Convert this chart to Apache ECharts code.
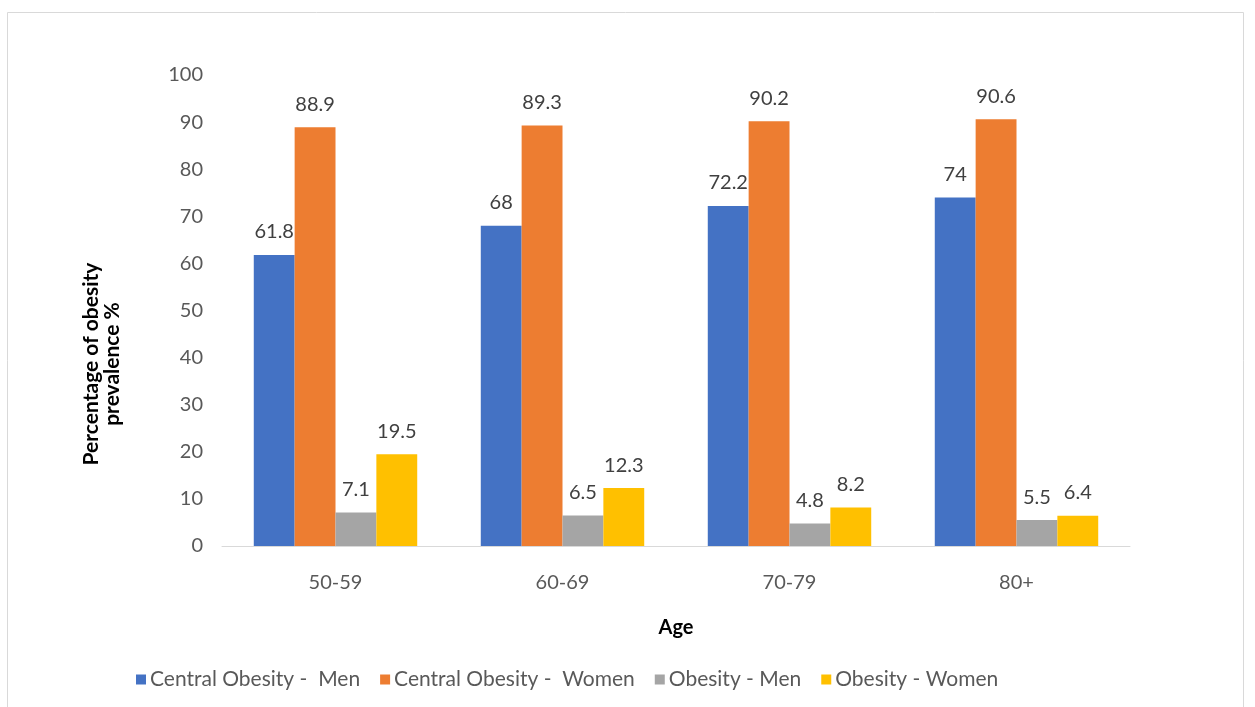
<!DOCTYPE html>
<html>
<head>
<meta charset="utf-8">
<script src="https://cdn.jsdelivr.net/npm/echarts@6/dist/echarts.min.js"></script>
<style>
  html, body { margin: 0; padding: 0; background: #ffffff; }
  #chart { width: 1255px; height: 707px; }
</style>
</head>
<body>
<div id="chart"></div>
<script>
// Age groups on the x axis
const ageGroups = ['50-59', '60-69', '70-79', '80+'];

// Prevalence (%) per age group
const centralObesityMen = [61.8, 68, 72.2, 74];
const centralObesityWomen = [88.9, 89.3, 90.2, 90.6];
const obesityMen = [7.1, 6.5, 4.8, 5.5];
const obesityWomen = [19.5, 12.3, 8.2, 6.4];

const seriesNames = [
  'Central Obesity -  Men',
  'Central Obesity -  Women',
  'Obesity - Men',
  'Obesity - Women'
];
const seriesValues = [centralObesityMen, centralObesityWomen, obesityMen, obesityWomen];
const seriesColors = ['#4472C4', '#ED7D31', '#A5A5A5', '#FFC000'];

const FONT = 'Lato, "Open Sans", sans-serif';

const chart = echarts.init(document.getElementById('chart'), null, { renderer: 'canvas' });

chart.setOption({
  backgroundColor: '#ffffff',
  animation: false,
  textStyle: { fontFamily: FONT },
  graphic: [{
    type: 'rect',
    shape: { x: 7.5, y: 12.5, width: 1236, height: 720 },
    style: { fill: 'none', stroke: '#d9d9d9', lineWidth: 1 },
    silent: true
  }, {
    type: 'text',
    x: 102,
    y: 364,
    rotation: Math.PI / 2,
    style: {
      text: 'Percentage of obesity\nprevalence %',
      fill: '#000000',
      font: 'bold 21px ' + FONT,
      align: 'center',
      verticalAlign: 'middle',
      lineHeight: 21
    }
  }],
  grid: { left: 222, right: 125, top: 75, bottom: 161, containLabel: false },
  legend: {
    left: 131,
    top: 664,
    itemWidth: 10,
    itemHeight: 10,
    itemGap: 20,
    icon: 'rect',
    textStyle: { color: '#595959', fontSize: 21, fontFamily: FONT, padding: [0, 0, 0, -1] },
    data: seriesNames
  },
  xAxis: {
    type: 'category',
    data: ageGroups,
    name: 'Age',
    nameLocation: 'middle',
    nameGap: 72,
    nameTextStyle: { color: '#000000', fontWeight: 'bold', fontSize: 20, fontFamily: FONT },
    axisLine: { lineStyle: { color: '#d9d9d9', width: 1 } },
    axisTick: { show: false },
    axisLabel: { color: '#595959', fontSize: 20, margin: 27, fontFamily: FONT }
  },
  yAxis: {
    type: 'value',
    min: 0,
    max: 100,
    interval: 10,
    axisLine: { show: false },
    axisTick: { show: false },
    splitLine: { show: false },
    axisLabel: { color: '#595959', fontSize: 20, margin: 19, fontFamily: FONT }
  },
  series: seriesNames.map((name, i) => ({
    name: name,
    type: 'bar',
    data: seriesValues[i],
    barGap: '0%',
    barCategoryGap: '28%',
    itemStyle: { color: seriesColors[i] },
    label: {
      show: true,
      position: 'top',
      distance: 13,
      color: '#404040',
      fontSize: 20,
      fontFamily: FONT
    }
  }))
});
</script>
</body>
</html>
